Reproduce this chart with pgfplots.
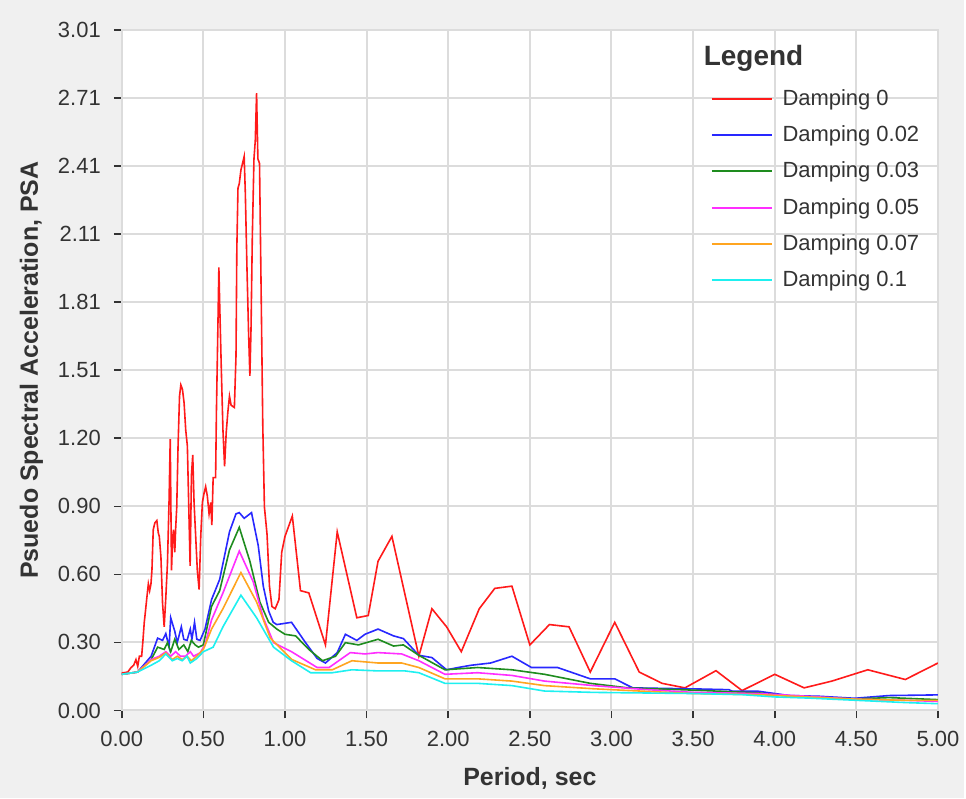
\documentclass[border=0pt]{standalone}
\usepackage{fontspec}
\setmainfont{Liberation Sans}
\usepackage{pgfplots}
\pgfplotsset{compat=1.18}
\definecolor{bg}{HTML}{F0F0F0}
\definecolor{gridc}{HTML}{DCDCDC}
\definecolor{txt}{HTML}{333333}
\definecolor{cred}{HTML}{FF1A1A}
\definecolor{cblue}{HTML}{2828FF}
\definecolor{cgreen}{HTML}{1E8C1E}
\definecolor{cmag}{HTML}{FF2EFF}
\definecolor{corange}{HTML}{FFA520}
\definecolor{ccyan}{HTML}{1EF0F0}
\begin{document}
\begin{tikzpicture}
\fill[bg] (-61pt,-44pt) rectangle (422pt,356pt);
\begin{axis}[
  at={(0pt,0pt)}, anchor=south west,
  scale only axis, width=409pt, height=341pt,
  xmin=0, xmax=5, ymin=0, ymax=3.01,
  axis background/.style={fill=white},
  grid=major, major grid style={draw=gridc, line width=1pt},
  axis line style={draw=gridc, line width=1pt},
  tick align=outside, tick pos=left, major tick length=4pt,
  tick style={draw=txt, line width=0.8pt},
  xtick={0,0.5,1,1.5,2,2.5,3,3.5,4,4.5,5},
  xticklabels={0.00,0.50,1.00,1.50,2.00,2.50,3.00,3.50,4.00,4.50,5.00},
  ytick={0,0.301,0.602,0.903,1.204,1.505,1.806,2.107,2.408,2.709,3.01},
  yticklabels={0.00,0.30,0.60,0.90,1.20,1.51,1.81,2.11,2.41,2.71,3.01},
  ticklabel style={font=\fontsize{11}{13}\selectfont, text=txt},
  yticklabel style={xshift=-3pt},
  xticklabel style={yshift=-3pt},
  xlabel={Period, sec}, ylabel={Psuedo Spectral Acceleration, PSA},
  label style={font=\bfseries\fontsize{12.5}{14}\selectfont, text=txt},
  xlabel style={at={(axis description cs:0.5,-0.0997)}, anchor=center},
  ylabel style={at={(axis description cs:-0.1105,0.5)}, anchor=center},
  legend cell align=left,
  legend style={at={(axis description cs:0.7213,0.919)}, anchor=north west,
    draw=none, fill=none, inner sep=0pt,
    font=\fontsize{11}{13}\selectfont, text=txt, row sep=4.7pt},
  legend image code/.code={\draw[#1, line width=1pt] (0pt,0pt) -- (30pt,0pt); \path (33pt,0pt);},
]
\addplot[cred, line width=0.8pt] table {
x y
0.00 0.166
0.02 0.168
0.037 0.17
0.057 0.19
0.073 0.20
0.087 0.225
0.098 0.195
0.108 0.24
0.122 0.24
0.13 0.31
0.138 0.39
0.144 0.43
0.154 0.50
0.163 0.56
0.171 0.53
0.179 0.56
0.185 0.62
0.193 0.80
0.203 0.83
0.215 0.84
0.224 0.785
0.23 0.77
0.24 0.68
0.25 0.475
0.26 0.37
0.27 0.50
0.28 0.65
0.29 0.93
0.297 1.20
0.305 0.62
0.311 0.755
0.317 0.80
0.325 0.70
0.33 0.80
0.337 0.90
0.345 1.17
0.354 1.39
0.362 1.44
0.372 1.42
0.382 1.36
0.392 1.24
0.402 1.17
0.41 0.92
0.419 0.64
0.427 1.04
0.435 1.13
0.443 0.92
0.453 0.77
0.463 0.62
0.474 0.535
0.484 0.77
0.494 0.92
0.504 0.96
0.514 0.99
0.524 0.95
0.535 0.87
0.545 0.92
0.552 0.82
0.56 1.03
0.575 1.03
0.58 1.32
0.59 1.74
0.595 1.96
0.60 1.80
0.61 1.51
0.62 1.24
0.63 1.08
0.64 1.23
0.65 1.32
0.66 1.39
0.67 1.35
0.69 1.34
0.70 1.57
0.705 2.04
0.712 2.31
0.72 2.33
0.73 2.39
0.74 2.42
0.75 2.45
0.757 2.29
0.767 1.96
0.777 1.67
0.785 1.48
0.792 1.69
0.80 2.10
0.81 2.44
0.818 2.52
0.826 2.73
0.834 2.44
0.844 2.42
0.854 1.85
0.864 1.26
0.874 0.90
0.89 0.78
0.905 0.55
0.92 0.46
0.94 0.45
0.963 0.49
0.98 0.70
1.00 0.77
1.045 0.86
1.095 0.53
1.146 0.52
1.248 0.29
1.32 0.79
1.44 0.41
1.51 0.42
1.57 0.66
1.655 0.77
1.82 0.24
1.90 0.45
1.99 0.37
2.08 0.26
2.19 0.45
2.285 0.54
2.39 0.55
2.50 0.29
2.62 0.38
2.74 0.37
2.87 0.17
3.02 0.39
3.17 0.17
3.31 0.12
3.45 0.10
3.64 0.176
3.80 0.088
4.00 0.16
4.18 0.10
4.35 0.13
4.57 0.18
4.80 0.137
5.00 0.21
};
\addlegendentry{Damping 0}
\addplot[cblue, line width=0.8pt] table {
x y
0 0.16
0.097 0.17
0.18 0.24
0.22 0.32
0.25 0.31
0.27 0.34
0.29 0.28
0.30 0.41
0.325 0.35
0.34 0.30
0.365 0.37
0.38 0.315
0.40 0.31
0.42 0.36
0.43 0.315
0.446 0.39
0.46 0.315
0.48 0.31
0.51 0.36
0.55 0.49
0.60 0.58
0.66 0.79
0.70 0.87
0.72 0.875
0.75 0.85
0.795 0.875
0.836 0.73
0.867 0.55
0.90 0.44
0.928 0.39
0.95 0.38
1.04 0.39
1.126 0.30
1.197 0.23
1.248 0.21
1.32 0.256
1.37 0.337
1.44 0.31
1.49 0.337
1.57 0.36
1.665 0.33
1.725 0.318
1.82 0.244
1.90 0.234
1.99 0.18
2.06 0.19
2.14 0.20
2.26 0.21
2.39 0.24
2.51 0.19
2.67 0.19
2.87 0.14
3.02 0.14
3.13 0.10
3.54 0.095
3.72 0.092
3.74 0.085
3.90 0.085
4.09 0.066
4.27 0.063
4.49 0.054
4.70 0.066
5.00 0.069
};
\addlegendentry{Damping 0.02}
\addplot[cgreen, line width=0.8pt] table {
x y
0 0.16
0.097 0.17
0.18 0.225
0.22 0.28
0.26 0.27
0.28 0.30
0.30 0.26
0.325 0.315
0.35 0.27
0.38 0.29
0.405 0.26
0.426 0.31
0.45 0.29
0.47 0.28
0.50 0.29
0.55 0.46
0.60 0.53
0.66 0.71
0.72 0.81
0.785 0.66
0.846 0.48
0.90 0.39
0.95 0.36
1.0 0.337
1.065 0.33
1.146 0.27
1.23 0.22
1.31 0.24
1.37 0.30
1.45 0.29
1.57 0.315
1.665 0.285
1.725 0.29
1.82 0.244
1.98 0.18
2.18 0.19
2.39 0.18
2.59 0.16
2.87 0.12
3.10 0.10
3.50 0.09
3.90 0.078
4.09 0.063
4.49 0.051
4.70 0.057
5.00 0.048
};
\addlegendentry{Damping 0.03}
\addplot[cmag, line width=0.8pt] table {
x y
0 0.16
0.097 0.17
0.18 0.225
0.23 0.24
0.27 0.26
0.30 0.24
0.33 0.26
0.36 0.24
0.39 0.24
0.42 0.26
0.44 0.24
0.48 0.255
0.51 0.29
0.55 0.40
0.62 0.52
0.72 0.705
0.805 0.57
0.867 0.41
0.93 0.30
1.04 0.26
1.197 0.19
1.27 0.19
1.40 0.256
1.49 0.25
1.57 0.256
1.715 0.25
1.82 0.22
1.98 0.16
2.18 0.167
2.39 0.155
2.59 0.13
2.89 0.11
3.20 0.093
3.50 0.08
3.90 0.075
4.20 0.063
4.50 0.05
4.80 0.045
5.00 0.04
};
\addlegendentry{Damping 0.05}
\addplot[corange, line width=0.8pt] table {
x y
0 0.16
0.097 0.17
0.18 0.22
0.23 0.235
0.27 0.255
0.31 0.225
0.34 0.24
0.37 0.225
0.40 0.24
0.426 0.22
0.46 0.24
0.50 0.27
0.55 0.36
0.62 0.45
0.73 0.61
0.826 0.48
0.91 0.32
1.04 0.226
1.187 0.18
1.29 0.18
1.41 0.22
1.57 0.21
1.715 0.21
1.82 0.19
1.98 0.14
2.18 0.14
2.39 0.13
2.59 0.11
2.89 0.096
3.20 0.085
3.50 0.075
3.90 0.07
4.20 0.06
4.50 0.05
4.80 0.045
5.00 0.045
};
\addlegendentry{Damping 0.07}
\addplot[ccyan, line width=0.8pt] table {
x y
0 0.16
0.097 0.17
0.18 0.20
0.23 0.22
0.27 0.25
0.31 0.22
0.34 0.23
0.37 0.22
0.40 0.24
0.42 0.21
0.46 0.23
0.50 0.26
0.56 0.28
0.62 0.37
0.73 0.51
0.826 0.41
0.93 0.28
1.04 0.22
1.157 0.167
1.29 0.167
1.41 0.18
1.57 0.175
1.735 0.175
1.82 0.167
1.98 0.12
2.18 0.12
2.39 0.11
2.59 0.086
2.89 0.08
3.50 0.075
3.80 0.07
4.00 0.06
4.20 0.055
4.50 0.045
4.80 0.035
5.00 0.03
};
\addlegendentry{Damping 0.1}
\node[anchor=west, font=\bfseries\fontsize{14}{16}\selectfont, text=txt, inner sep=0pt]
  at (axis description cs:0.7127,0.9586) {Legend};
\end{axis}
\end{tikzpicture}
\end{document}
